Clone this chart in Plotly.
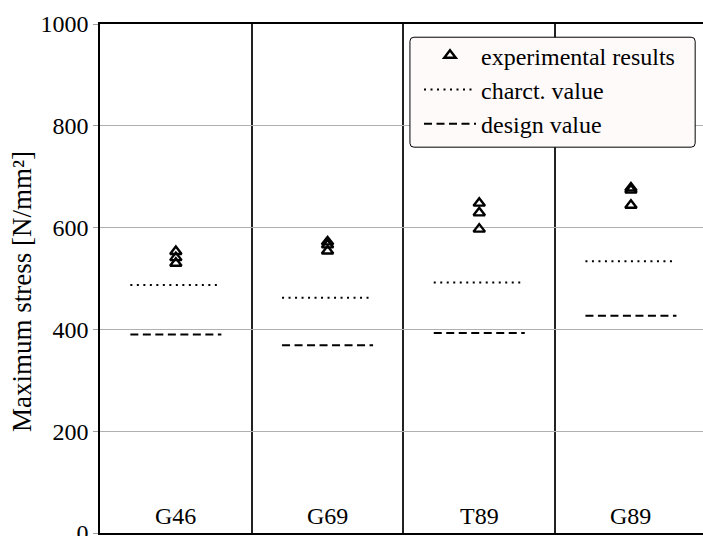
import plotly.graph_objects as go

# Specimen groups and measured / derived maximum stresses [N/mm²]
groups = ["G46", "G69", "T89", "G89"]
experimental = [
    [553, 541, 530],
    [572, 566, 554],
    [648, 629, 597],
    [678, 674, 644],
]
charct_value = [487, 462, 492, 534]
design_value = [390, 369, 393, 427]

y_ticks = [0, 200, 400, 600, 800, 1000]

FONT = "Liberation Serif"
HALF = 0.3  # half length of the value lines, in category units

fig = go.Figure()

# experimental results: open triangles at each group position
ex_x, ex_y = [], []
for i, vals in enumerate(experimental):
    for v in vals:
        ex_x.append(i)
        ex_y.append(v)

fig.add_trace(go.Scatter(
    x=ex_x, y=ex_y, mode="markers", name="experimental results",
    legendgroup="a",
    marker=dict(symbol="triangle-up-open", size=10, color="black",
                line=dict(color="black", width=2.4)),
))


def seg_xy(values):
    xs, ys = [], []
    for i, v in enumerate(values):
        xs += [i - HALF, i + HALF, None]
        ys += [v, v, None]
    return xs, ys


cx, cy = seg_xy(charct_value)
fig.add_trace(go.Scatter(
    x=cx, y=cy, mode="lines", name="charct. value", legendgroup="b",
    line=dict(color="black", width=2, dash="2px,4.5px"),
))

dx, dy = seg_xy(design_value)
fig.add_trace(go.Scatter(
    x=dx, y=dy, mode="lines", name="design value", legendgroup="c",
    line=dict(color="black", width=2, dash="8px,4.5px"),
))

# group names inside the plot, just above the bottom axis
for i, g in enumerate(groups):
    fig.add_annotation(x=i, y=0, xref="x", yref="y", text=g,
                       showarrow=False, yanchor="bottom", yshift=2,
                       font=dict(family=FONT, size=24, color="black"))

# y-axis label
fig.add_annotation(x=(22 - 100) / 603, y=(533 - 292) / 509,
                   xref="paper", yref="paper", text="Maximum stress [N/mm²]",
                   textangle=-90, showarrow=False,
                   xanchor="center", yanchor="middle",
                   font=dict(family=FONT, size=27, color="black"))

# rounded legend frame
x0, x1 = 0.514, 0.987
y0, y1 = 0.758, 0.974
rx, ry = 4 / 603, 4 / 509
path = (f"M{x0+rx},{y1} L{x1-rx},{y1} Q{x1},{y1} {x1},{y1-ry} "
        f"L{x1},{y0+ry} Q{x1},{y0} {x1-rx},{y0} L{x0+rx},{y0} "
        f"Q{x0},{y0} {x0},{y0+ry} L{x0},{y1-ry} Q{x0},{y1} {x0+rx},{y1} Z")
fig.add_shape(type="path", path=path, xref="paper", yref="paper",
              fillcolor="#fffafa", line=dict(color="black", width=1),
              layer="above")

fig.update_layout(
    width=703, height=536,
    margin=dict(l=100, r=0, t=24, b=3, autoexpand=False),
    paper_bgcolor="white", plot_bgcolor="white",
    font=dict(family=FONT, size=24, color="black"),
    showlegend=True,
    legend=dict(x=(419 - 100) / 603, y=0.982, xanchor="left", yanchor="top",
                bgcolor="rgba(0,0,0,0)", borderwidth=0,
                font=dict(family=FONT, size=24, color="black"),
                itemwidth=52, tracegroupgap=0),
    xaxis=dict(range=[-0.5, -0.5 + 603 / 151.7],
               tickvals=[-0.5, 0.5, 1.5, 2.5], showticklabels=False,
               ticks="", showgrid=True, gridcolor="#222222", gridwidth=1.5,
               zeroline=False, showline=True, linecolor="black",
               linewidth=1.8, mirror=True, automargin=False),
    yaxis=dict(range=[0, 1000], tickvals=y_ticks,
               ticks="outside", ticklen=5, tickcolor="#a0a0a0", tickwidth=1,
               showgrid=True, gridcolor="#b0b0b0", gridwidth=1,
               zeroline=False, showline=True, linecolor="black",
               linewidth=1.5, mirror=False, ticklabeloverflow="allow",
               automargin=False,
               tickfont=dict(family=FONT, size=24, color="black")),
)

fig.write_html("out.html")
